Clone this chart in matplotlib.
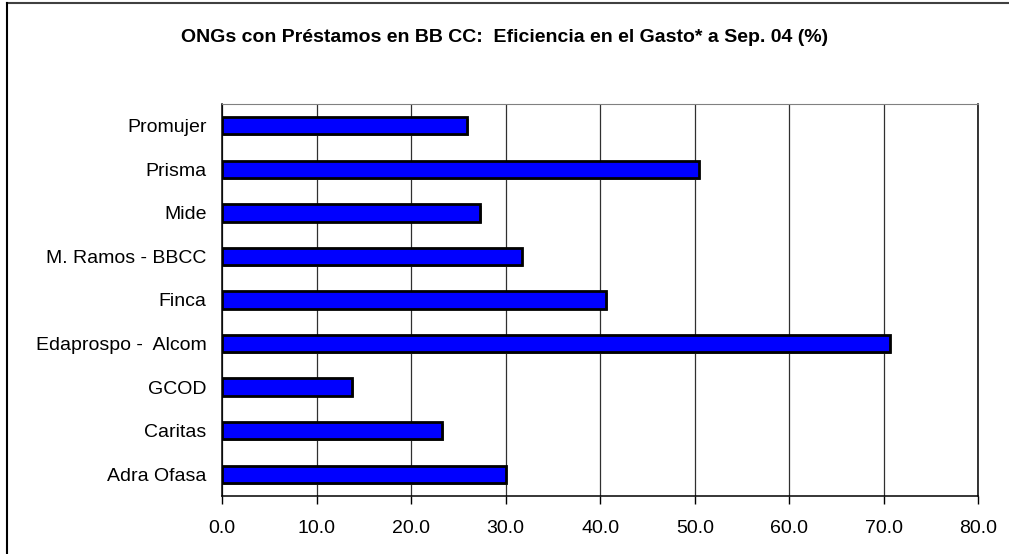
import matplotlib
matplotlib.use('Agg')
import matplotlib.pyplot as plt
import matplotlib.patheffects as pe
from matplotlib.lines import Line2D
import numpy as np

plt.rcParams['font.family'] = ['Liberation Sans', 'DejaVu Sans']

# datos (de abajo hacia arriba, como en el gráfico)
ongs = ['Adra Ofasa', 'Caritas', 'GCOD', 'Edaprospo -  Alcom', 'Finca',
        'M. Ramos - BBCC', 'Mide', 'Prisma', 'Promujer']
eficiencia = [30.0, 23.3, 13.8, 70.6, 40.6, 31.7, 27.3, 50.4, 25.9]
ticks_x = [0, 10, 20, 30, 40, 50, 60, 70, 80]
titulo = 'ONGs con Préstamos en BB CC:  Eficiencia en el Gasto* a Sep. 04 (%)'

fig = plt.figure(figsize=(10.09, 5.54), dpi=100)
ax = fig.add_axes([0.22, 0.1047, 0.7497, 0.7076])

y = np.arange(len(ongs))
ax.barh(y, eficiencia, height=0.4, color='#0000FF', edgecolor='black', linewidth=2.0,
        zorder=3,
        path_effects=[pe.SimplePatchShadow(offset=(1.2, -1.2), shadow_rgbFace='#909090', alpha=1),
                      pe.Normal()])

ax.set_xlim(0, 80)
ax.set_ylim(-0.5, len(ongs) - 0.5)
ax.set_xticks(ticks_x)
ax.set_xticklabels([f'{v:.1f}' for v in ticks_x], fontsize=14)
ax.set_yticks(y)
ax.set_yticklabels(ongs, fontsize=14)
ax.tick_params(axis='y', length=0, pad=11)
ax.tick_params(axis='x', direction='out', length=6, width=1, pad=11)

# líneas de división verticales
ax.grid(True, axis='x', color='#303030', linewidth=0.9, zorder=0)
ax.set_axisbelow(True)

ax.spines['top'].set_color('#808080')
for s in ['left', 'bottom', 'right']:
    ax.spines[s].set_color('black')
    ax.spines[s].set_linewidth(1.1)

fig.text(0.5, 0.933, titulo, ha='center', va='center', fontsize=14, fontweight='bold')

# marco del área del gráfico (sólo se ven arriba e izquierda)
fig.add_artist(Line2D([7 / 1009, 1.0], [1 - 3 / 554, 1 - 3 / 554], color='#404040', linewidth=1.5))
fig.add_artist(Line2D([7 / 1009, 7 / 1009], [0.0, 1 - 3 / 554], color='black', linewidth=1.5))

fig.savefig('out.png', dpi=100)
